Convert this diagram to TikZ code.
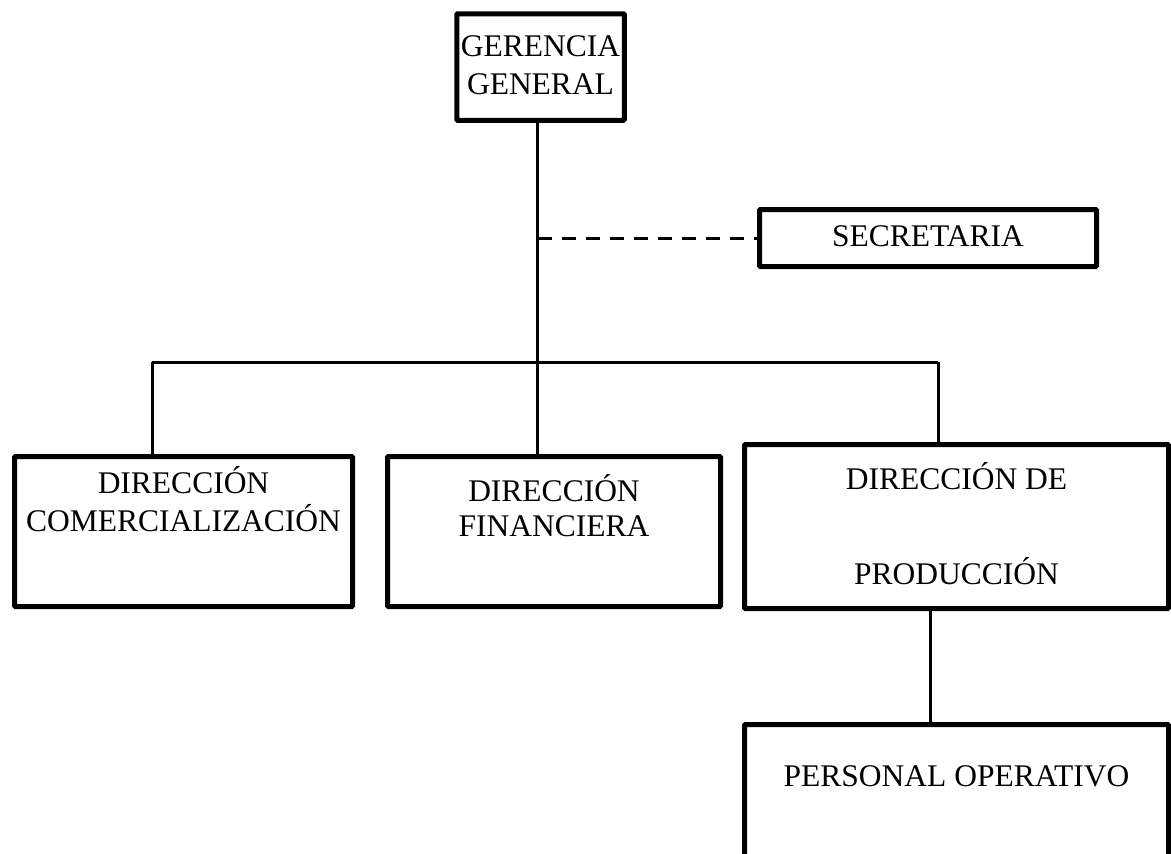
\documentclass[tikz,border=0pt]{standalone}
\usepackage{fontspec}
\setmainfont{Liberation Serif}
\usetikzlibrary{positioning}
\tikzset{
  cargo/.style={draw, line width=5pt, rectangle, rounded corners=1pt, align=center,
    anchor=north west, inner xsep=0pt, inner ysep=0pt,
    font=\fontsize{31.5}{38}\selectfont},
  linea/.style={line width=3pt},
  apoyo/.style={line width=3pt, dash pattern=on 14pt off 10pt}
}
\begin{document}
\begin{tikzpicture}[x=1pt,y=-1pt]
\useasboundingbox (0,0) rectangle (1171,854);
\node[cargo, minimum width=167.5pt, text height=80.25pt, text depth=26.25pt] (gg) at (454.25,11.25) {GERENCIA\\GENERAL};
\node[cargo, minimum width=337pt, text height=37pt, text depth=20pt] (sec) at (757,207) {SECRETARIA};
\node[cargo, minimum width=338pt, text height=75pt, text depth=75pt] (com) at (12,454) {DIRECCIÓN\\COMERCIALIZACIÓN};
\node[cargo, minimum width=333pt, text height=79.5pt, text depth=70.5pt] (fin) at (385,454) {DIRECCIÓN\\[-3pt]FINANCIERA};
\node[cargo, minimum width=424pt, text height=139.5pt, text depth=24.5pt] (prod) at (742,442) {DIRECCIÓN DE\\[57pt]PRODUCCIÓN};
\node[cargo, minimum width=424pt, text height=61.5pt, text depth=96.5pt] (per) at (742,722) {PERSONAL OPERATIVO};
\coordinate (bl) at (152,362);
\coordinate (br) at (938,362);
\draw[linea] ([xshift=-3pt]gg.south) -- ([xshift=-3pt]gg.south |- fin.north);
\draw[apoyo] ([xshift=-3pt]gg.south |- sec.west) -- (sec.west);
\draw[linea] (bl) -- (br);
\draw[linea] (bl) -- (bl |- com.north);
\draw[linea] (br) -- (br |- prod.north);
\draw[linea] ([xshift=-26pt]prod.south) -- ([xshift=-26pt]prod.south |- per.north);
\end{tikzpicture}
\end{document}
